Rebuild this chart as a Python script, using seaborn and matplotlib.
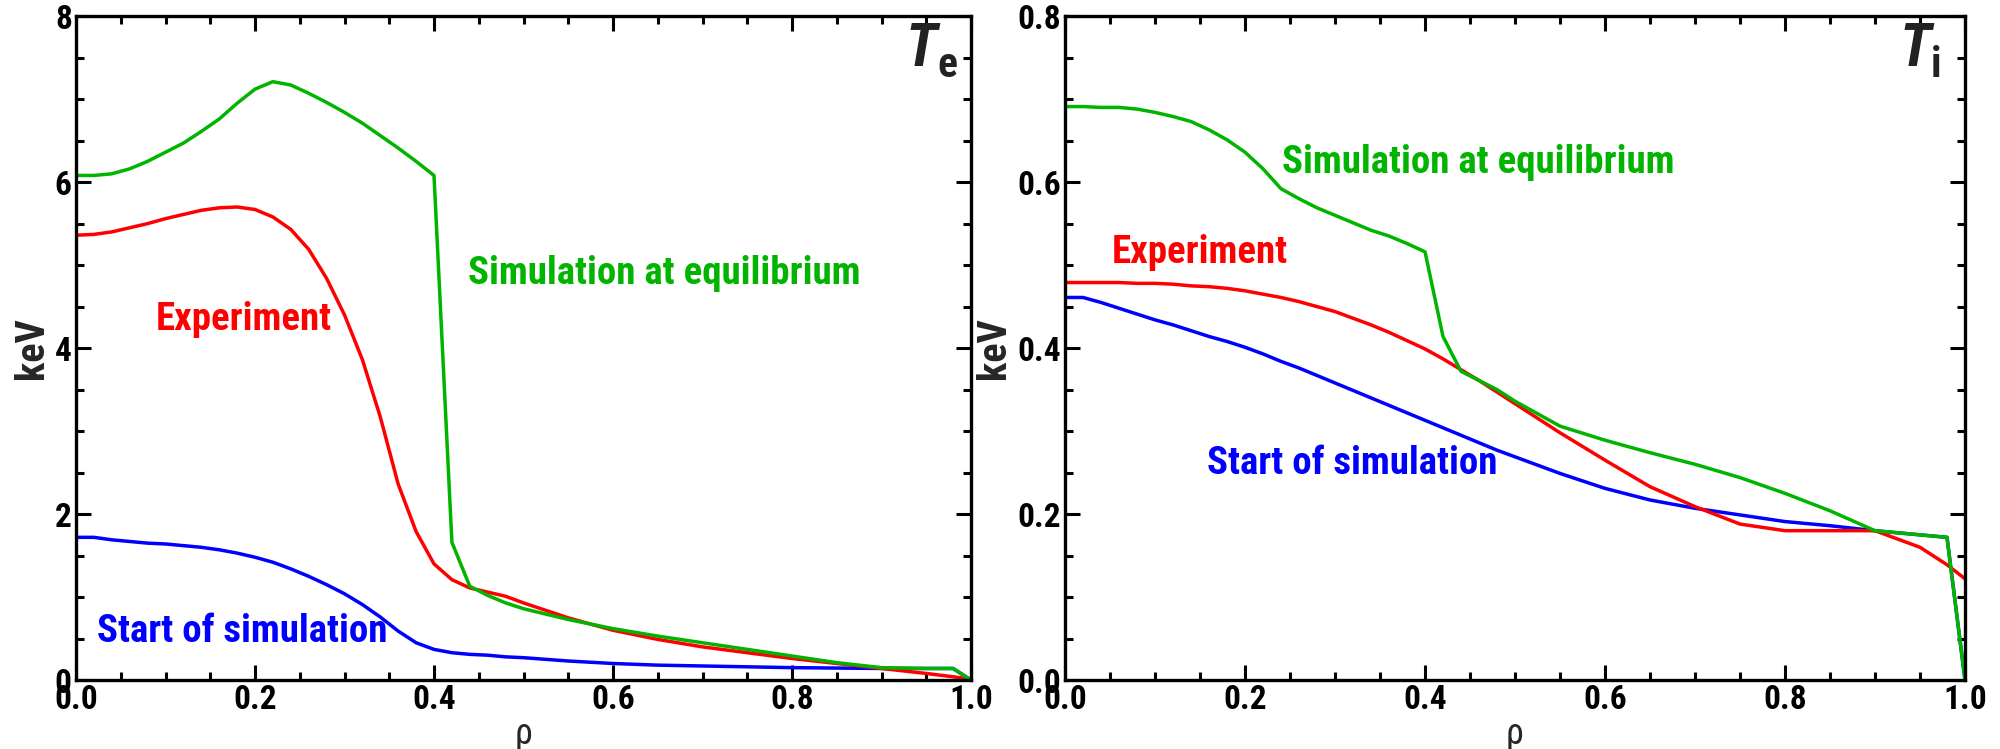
import matplotlib
matplotlib.use('Agg')
import matplotlib.pyplot as plt
from matplotlib.ticker import MultipleLocator, FormatStrFormatter
import seaborn as sns

# rho grid shared by every profile
rho = [0.00, 0.02, 0.04, 0.06, 0.08, 0.10, 0.12, 0.14, 0.16, 0.18, 0.20, 0.22, 0.24,
       0.26, 0.28, 0.30, 0.32, 0.34, 0.36, 0.38, 0.40, 0.42, 0.44, 0.46, 0.48, 0.50,
       0.55, 0.60, 0.65, 0.70, 0.75, 0.80, 0.85, 0.90, 0.95, 0.98, 1.00]

# Te (keV)
te_equil = [6.08, 6.08, 6.10, 6.16, 6.25, 6.36, 6.47, 6.61, 6.76, 6.95, 7.12, 7.21, 7.17,
            7.07, 6.96, 6.84, 6.71, 6.56, 6.41, 6.25, 6.08, 1.66, 1.13, 1.02, 0.93, 0.86,
            0.73, 0.62, 0.53, 0.45, 0.37, 0.29, 0.21, 0.15, 0.14, 0.14, 0.00]
te_exp = [5.36, 5.37, 5.40, 5.45, 5.50, 5.56, 5.61, 5.66, 5.69, 5.70, 5.67, 5.58, 5.43,
          5.19, 4.84, 4.40, 3.86, 3.17, 2.36, 1.79, 1.40, 1.21, 1.11, 1.06, 1.01, 0.93,
          0.75, 0.60, 0.49, 0.40, 0.33, 0.26, 0.20, 0.14, 0.08, 0.04, 0.01]
te_start = [1.72, 1.72, 1.69, 1.67, 1.65, 1.64, 1.62, 1.60, 1.57, 1.53, 1.48, 1.42, 1.34,
            1.25, 1.15, 1.04, 0.91, 0.76, 0.59, 0.45, 0.37, 0.33, 0.31, 0.30, 0.28, 0.27,
            0.23, 0.20, 0.18, 0.17, 0.16, 0.15, 0.145, 0.14, 0.14, 0.14, 0.00]

# Ti (keV)
ti_equil = [0.691, 0.691, 0.690, 0.690, 0.688, 0.684, 0.679, 0.673, 0.663, 0.651, 0.636,
            0.616, 0.592, 0.580, 0.569, 0.560, 0.551, 0.542, 0.535, 0.526, 0.516, 0.414,
            0.372, 0.361, 0.350, 0.336, 0.306, 0.289, 0.274, 0.260, 0.244, 0.225, 0.204,
            0.180, 0.175, 0.172, 0.000]
ti_exp = [0.479, 0.479, 0.479, 0.479, 0.478, 0.478, 0.477, 0.475, 0.474, 0.472, 0.469,
          0.465, 0.461, 0.456, 0.450, 0.444, 0.436, 0.428, 0.419, 0.409, 0.399, 0.387,
          0.374, 0.361, 0.347, 0.333, 0.298, 0.265, 0.233, 0.209, 0.188, 0.180, 0.180,
          0.180, 0.160, 0.139, 0.122]
ti_start = [0.461, 0.461, 0.455, 0.448, 0.441, 0.434, 0.428, 0.421, 0.414, 0.408, 0.401,
            0.393, 0.384, 0.376, 0.367, 0.358, 0.349, 0.340, 0.331, 0.322, 0.313, 0.304,
            0.295, 0.286, 0.277, 0.269, 0.249, 0.231, 0.217, 0.207, 0.199, 0.191, 0.186,
            0.180, 0.175, 0.172, 0.000]

labels = ['Simulation at equilibrium', 'Experiment', 'Start of simulation']

GREEN = '#00b400'
RED = '#ff0000'
BLUE = '#0000ff'

sns.set_style('ticks')
plt.rcParams['font.family'] = ['Roboto Condensed', 'DejaVu Sans']
plt.rcParams['font.weight'] = 'bold'
plt.rcParams['axes.labelweight'] = 'bold'
plt.rcParams['axes.edgecolor'] = 'black'
plt.rcParams['xtick.color'] = 'black'
plt.rcParams['ytick.color'] = 'black'

fig = plt.figure(figsize=(20, 7.49), dpi=100)
ax1 = fig.add_axes([0.038, 0.092, 0.4475, 0.8865])
ax2 = fig.add_axes([0.5325, 0.092, 0.45, 0.8865])

panels = [
    (ax1, te_equil, te_exp, te_start, 8, 2, 0.5, '%d', 'e',
     [(0.438, 4.9), (0.089, 4.34), (0.024, 0.59)]),
    (ax2, ti_equil, ti_exp, ti_start, 0.8, 0.2, 0.05, '%.1f', 'i',
     [(0.241, 0.624), (0.052, 0.515), (0.158, 0.261)]),
]

for ax, eq, ex, st, ymax, ymaj, ymin, yfmt, sub, pos in panels:
    sns.lineplot(x=rho, y=st, ax=ax, color=BLUE, lw=2.5)
    sns.lineplot(x=rho, y=ex, ax=ax, color=RED, lw=2.5)
    sns.lineplot(x=rho, y=eq, ax=ax, color=GREEN, lw=2.5)

    ax.set_xlim(0, 1)
    ax.set_ylim(0, ymax)
    ax.xaxis.set_major_locator(MultipleLocator(0.2))
    ax.xaxis.set_minor_locator(MultipleLocator(0.05))
    ax.yaxis.set_major_locator(MultipleLocator(ymaj))
    ax.yaxis.set_minor_locator(MultipleLocator(ymin))
    ax.yaxis.set_major_formatter(FormatStrFormatter(yfmt))
    ax.xaxis.set_major_formatter(FormatStrFormatter('%.1f'))
    ax.tick_params(which='both', direction='in', top=True, right=True, width=2.2,
                   labelsize=24, pad=3)
    ax.tick_params(which='major', length=11)
    ax.tick_params(which='minor', length=5.5)
    for s in ax.spines.values():
        s.set_linewidth(2.4)

    ax.set_xlabel('ρ', fontsize=26, fontweight='normal', labelpad=0)
    ax.set_ylabel('keV', fontsize=29, labelpad=3)

    for (tx, ty), txt, col in zip(pos, labels, [GREEN, RED, BLUE]):
        ax.text(tx, ty, txt, color=col, fontsize=28, va='center')

    ax.text(0.962, 0.925, 'T', transform=ax.transAxes, fontsize=43, style='italic',
            ha='right', va='baseline', color='#222222')
    ax.text(0.962, 0.908, sub, transform=ax.transAxes, fontsize=30,
            ha='left', va='baseline', color='#222222')

fig.savefig('out.png', dpi=100)
